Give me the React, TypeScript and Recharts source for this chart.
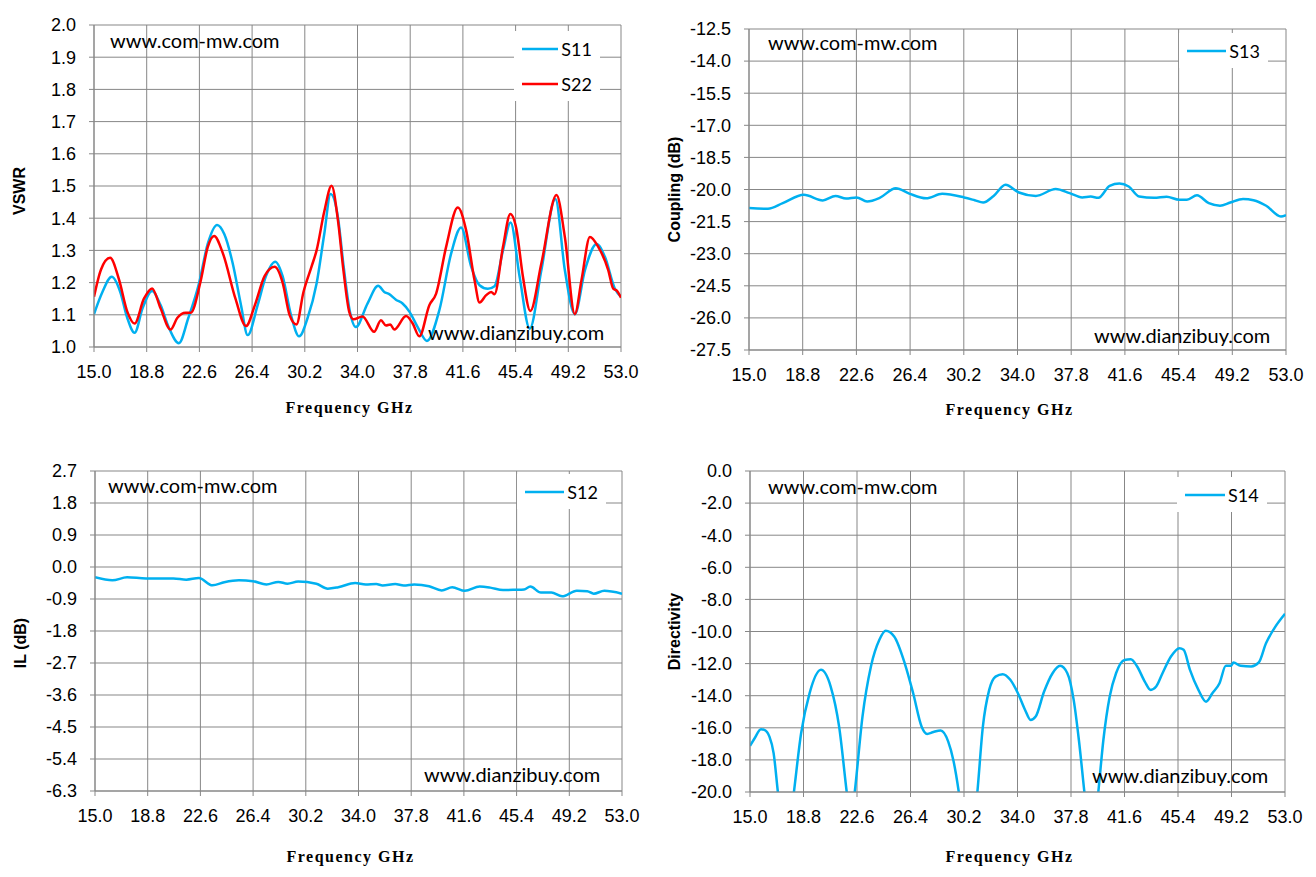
import React from "react";
import { LineChart, Line, XAxis, YAxis, CartesianGrid, Legend } from "recharts";

// shared frequency axis (GHz)
const freqTicks = [15.0, 18.8, 22.6, 26.4, 30.2, 34.0, 37.8, 41.6, 45.4, 49.2, 53.0];

const vswrTicks = [1.0, 1.1, 1.2, 1.3, 1.4, 1.5, 1.6, 1.7, 1.8, 1.9, 2.0];
const couplingTicks = [-27.5, -26.0, -24.5, -23.0, -21.5, -20.0, -18.5, -17.0, -15.5, -14.0, -12.5];
const ilTicks = [-6.3, -5.4, -4.5, -3.6, -2.7, -1.8, -0.9, 0.0, 0.9, 1.8, 2.7];
const directivityTicks = [-20, -18, -16, -14, -12, -10, -8, -6, -4, -2, 0];

// [freq GHz, value]
const s11: [number, number][] = [
  [15.0, 1.102], [15.6, 1.17], [16.28, 1.218], [16.9, 1.17], [17.4, 1.09], [17.93, 1.044],
  [18.5, 1.12], [19.19, 1.174], [19.8, 1.13], [20.4, 1.06], [21.12, 1.012], [21.8, 1.09],
  [22.57, 1.197], [23.2, 1.32], [23.88, 1.379], [24.4, 1.35], [25.0, 1.26], [25.6, 1.13],
  [26.08, 1.037], [26.8, 1.13], [27.4, 1.22], [28.07, 1.265], [28.6, 1.22], [29.2, 1.1],
  [29.79, 1.033], [30.4, 1.09], [31.05, 1.197], [31.6, 1.35], [32.06, 1.475], [32.6, 1.4],
  [33.0, 1.25], [33.45, 1.11], [33.88, 1.062], [34.72, 1.135], [35.49, 1.19], [35.93, 1.171],
  [36.29, 1.164], [36.77, 1.147], [37.25, 1.135], [37.74, 1.11], [38.34, 1.062], [39.01, 1.019],
  [39.9, 1.114], [40.75, 1.29], [41.47, 1.371], [42.2, 1.249], [42.8, 1.192], [43.4, 1.181],
  [43.88, 1.189], [44.49, 1.3], [45.04, 1.387], [45.69, 1.218], [46.42, 1.057], [47.26, 1.239],
  [48.27, 1.46], [48.95, 1.239], [49.67, 1.102], [50.4, 1.239], [51.24, 1.32], [51.84, 1.28],
  [52.56, 1.181], [53.0, 1.156],
];

const s22: [number, number][] = [
  [15.0, 1.156], [15.5, 1.24], [16.16, 1.277], [16.8, 1.21], [17.4, 1.11], [17.93, 1.073],
  [18.6, 1.15], [19.19, 1.182], [19.8, 1.12], [20.52, 1.054], [21.0, 1.09], [21.6, 1.106],
  [21.97, 1.106], [22.7, 1.207], [23.2, 1.31], [23.66, 1.345], [24.3, 1.29], [25.2, 1.15],
  [25.96, 1.065], [26.6, 1.13], [27.3, 1.22], [28.02, 1.249], [28.6, 1.2], [29.1, 1.1],
  [29.6, 1.07], [30.1, 1.17], [30.68, 1.249], [31.05, 1.3], [31.6, 1.42], [32.13, 1.501],
  [32.6, 1.39], [32.98, 1.24], [33.4, 1.11], [33.71, 1.086], [34.36, 1.095], [35.2, 1.047],
  [35.69, 1.083], [36.05, 1.067], [36.36, 1.07], [36.65, 1.054], [37.5, 1.096], [37.98, 1.073],
  [38.46, 1.033], [39.18, 1.13], [39.67, 1.166], [40.39, 1.311], [41.23, 1.433], [41.83, 1.363],
  [42.44, 1.207], [42.8, 1.138], [43.28, 1.161], [43.64, 1.171], [43.88, 1.164], [44.49, 1.311],
  [45.02, 1.413], [45.45, 1.368], [45.93, 1.218], [46.46, 1.112], [47.26, 1.26], [48.35, 1.472],
  [48.95, 1.342], [49.67, 1.102], [50.15, 1.207], [50.76, 1.342], [51.36, 1.311], [52.08, 1.239],
  [52.44, 1.181], [52.7, 1.175], [53.0, 1.153],
];

const s13: [number, number][] = [
  [15.0, -20.87], [16.34, -20.9], [17.39, -20.64], [18.88, -20.25], [20.22, -20.51], [21.12, -20.3],
  [21.87, -20.42], [22.61, -20.37], [23.36, -20.56], [24.25, -20.39], [25.39, -19.94], [26.34, -20.19],
  [27.54, -20.41], [28.67, -20.2], [30.22, -20.37], [30.97, -20.5], [31.57, -20.61], [32.31, -20.3],
  [33.15, -19.78], [34.1, -20.14], [35.3, -20.3], [36.7, -19.98], [37.69, -20.17], [38.58, -20.37],
  [39.18, -20.33], [39.72, -20.39], [40.52, -19.83], [41.21, -19.72], [41.87, -19.86], [42.61, -20.33],
  [43.66, -20.39], [44.55, -20.34], [45.45, -20.48], [45.99, -20.48], [46.7, -20.27], [47.54, -20.64],
  [48.33, -20.76], [49.06, -20.61], [49.96, -20.44], [50.7, -20.5], [51.6, -20.76], [52.64, -21.26],
  [53.0, -21.2],
];

const s12: [number, number][] = [
  [15.0, -0.29], [16.25, -0.375], [17.31, -0.29], [18.68, -0.32], [20.66, -0.32], [21.58, -0.356],
  [22.49, -0.31], [23.47, -0.516], [24.32, -0.43], [25.38, -0.375], [26.39, -0.4], [27.36, -0.49],
  [28.22, -0.42], [28.88, -0.47], [29.65, -0.41], [30.96, -0.47], [31.78, -0.61], [32.54, -0.57],
  [33.76, -0.45], [34.52, -0.49], [35.28, -0.48], [35.74, -0.52], [36.65, -0.48], [37.26, -0.52],
  [38.02, -0.49], [39.09, -0.54], [40.0, -0.66], [40.76, -0.57], [41.67, -0.67], [42.74, -0.55],
  [43.5, -0.58], [44.42, -0.65], [45.33, -0.64], [45.94, -0.63], [46.39, -0.55], [47.15, -0.72],
  [47.91, -0.72], [48.68, -0.825], [49.74, -0.67], [50.5, -0.68], [50.96, -0.75], [51.72, -0.67],
  [53.0, -0.75],
];

const s14: [number, number][] = [
  [15.0, -17.13], [15.33, -16.65], [15.78, -16.09], [16.02, -16.13], [16.38, -16.55], [16.68, -17.59],
  [16.98, -20.0], [17.55, -24.0], [18.12, -20.0], [18.63, -16.34], [19.23, -13.85], [20.04, -12.39],
  [20.73, -13.43], [21.33, -15.93], [21.87, -20.0], [22.15, -22.0], [22.44, -20.0], [22.99, -15.3],
  [23.59, -12.18], [24.19, -10.52], [24.64, -9.96], [25.24, -10.31], [25.99, -11.98], [26.59, -13.85],
  [27.19, -15.93], [27.58, -16.38], [28.03, -16.26], [28.54, -16.17], [29.08, -16.86], [29.44, -18.0],
  [29.83, -20.0], [30.5, -25.0], [31.15, -20.0], [31.54, -15.93], [31.99, -13.64], [32.44, -12.81],
  [32.95, -12.66], [33.49, -13.01], [34.03, -13.85], [34.54, -14.89], [34.93, -15.51], [35.29, -15.3],
  [35.89, -13.74], [36.49, -12.6], [37.03, -12.14], [37.54, -12.6], [37.99, -14.26], [38.36, -16.76],
  [38.75, -20.0], [39.25, -24.0], [39.74, -20.0], [40.1, -16.76], [40.55, -14.05], [41.0, -12.6],
  [41.6, -11.77], [42.05, -11.73], [42.5, -12.18], [43.04, -13.12], [43.46, -13.64], [43.85, -13.43],
  [44.3, -12.6], [44.9, -11.56], [45.5, -11.04], [45.8, -11.14], [46.25, -12.39], [46.85, -13.64],
  [47.39, -14.37], [47.84, -13.85], [48.35, -13.22], [48.8, -12.14], [49.16, -12.14], [49.34, -11.93],
  [49.85, -12.14], [50.6, -12.18], [51.14, -11.93], [51.65, -10.73], [52.25, -9.79], [53.0, -8.9],
];

const BLUE = "#00b0f0";
const RED = "#ff0000";
const GRID = "#878787";
const tickFont = { fill: "#000", fontSize: 18, fontFamily: "'Liberation Sans', Arial, sans-serif" };
const markFont = "Lato, 'Open Sans', sans-serif";

type Series = { name: string; color: string; points: [number, number][] };

const toRows = (pts: [number, number][]) => pts.map(([f, v]) => ({ f, v }));

const legendContent = (props: any) => (
  <div style={{ background: "#fff", padding: "0 8px" }}>
    {(props.payload || []).map((p: any) => (
      <div key={p.value} style={{ display: "flex", alignItems: "center", height: 35 }}>
        <svg width={40} height={6}>
          <line x1={0} y1={3} x2={40} y2={3} stroke={p.color} strokeWidth={2.5} />
        </svg>
        <span style={{ marginLeft: 3, fontFamily: markFont, fontSize: 18, color: "#000" }}>{p.value}</span>
      </div>
    ))}
  </div>
);

function Panel(props: {
  left: number;
  top: number;
  margin: { top: number; right: number; bottom: number; left: number };
  yWidth: number;
  yTicks: number[];
  yTitle: string;
  yTitleDx: number;
  yTitleDy: number;
  xTitleDy: number;
  series: Series[];
  legendPos: { left: number; top: number; width: number };
  marks: [string, number, number][];
}) {
  const { yTicks } = props;
  const W = 658;
  const H = 437;
  return (
    <div style={{ position: "absolute", left: props.left, top: props.top, width: W, height: H }}>
      <LineChart width={W} height={H} margin={props.margin}>
        <CartesianGrid stroke={GRID} strokeWidth={1} />
        <XAxis
          type="number"
          dataKey="f"
          domain={[15, 53]}
          ticks={freqTicks}
          interval={0}
          tickFormatter={(v) => v.toFixed(1)}
          tick={tickFont}
          tickSize={5}
          tickMargin={13}
          height={30}
          stroke={GRID}
          allowDataOverflow
          label={({ viewBox }: any) => {
            const cx = viewBox.x + viewBox.width / 2 - 8;
            const cy = viewBox.y + props.xTitleDy;
            return (
              <text
                x={cx}
                y={cy}
                textAnchor="middle"
                dominantBaseline="central"
                fontFamily="'Liberation Serif', 'DejaVu Serif', serif"
                fontWeight="bold"
                fontSize={16}
                letterSpacing={1.5}
                fill="#000"
              >
                Frequency GHz
              </text>
            );
          }}
        />
        <YAxis
          type="number"
          domain={[yTicks[0], yTicks[yTicks.length - 1]]}
          ticks={yTicks}
          interval={0}
          tickFormatter={(v) => v.toFixed(1)}
          tick={tickFont}
          tickSize={5}
          tickMargin={13}
          width={props.yWidth}
          stroke={GRID}
          allowDataOverflow
          label={({ viewBox }: any) => {
            const cx = viewBox.x + props.yTitleDx;
            const cy = viewBox.y + viewBox.height / 2 + props.yTitleDy;
            return (
              <text
                x={cx}
                y={cy}
                transform={`rotate(-90 ${cx} ${cy})`}
                textAnchor="middle"
                dominantBaseline="central"
                fontFamily="'Liberation Sans', Arial, sans-serif"
                fontWeight="bold"
                fontSize={16}
                fill="#000"
              >
                {props.yTitle}
              </text>
            );
          }}
        />
        <Legend
          layout="vertical"
          align="center"
          verticalAlign="middle"
          content={legendContent}
          wrapperStyle={{ left: props.legendPos.left, top: props.legendPos.top, width: props.legendPos.width }}
        />
        {props.series.map((s) => (
          <Line
            key={s.name}
            name={s.name}
            data={toRows(s.points)}
            dataKey="v"
            type="monotone"
            stroke={s.color}
            strokeWidth={2.5}
            dot={false}
            activeDot={false}
            isAnimationActive={false}
          />
        ))}
      </LineChart>
      <svg
        width={W}
        height={H}
        style={{ position: "absolute", left: 0, top: 0, pointerEvents: "none" }}
      >
        {props.marks.map(([t, x, y]) => (
          <text key={t} x={x} y={y} fontFamily={markFont} fontSize={20} fill="#000">
            {t}
          </text>
        ))}
      </svg>
    </div>
  );
}

export default function App() {
  return (
    <div
      style={{
        position: "fixed",
        left: 0,
        top: 0,
        width: 1316,
        height: 877,
        background: "#fff",
        overflow: "hidden",
      }}
    >
      <Panel
        left={0}
        top={0}
        margin={{ top: 25, right: 37, bottom: 60, left: 0 }}
        yWidth={94}
        yTicks={vswrTicks}
        yTitle="VSWR"
        yTitleDx={19}
        yTitleDy={5}
        xTitleDy={60}
        series={[
          { name: "S11", color: BLUE, points: s11 },
          { name: "S22", color: RED, points: s22 },
        ]}
        legendPos={{ left: 514, top: 31, width: 86 }}
        marks={[
          ["www.com-mw.com", 110, 48],
          ["www.dianzibuy.com", 428, 340],
        ]}
      />
      <Panel
        left={658}
        top={0}
        margin={{ top: 29, right: 30, bottom: 57, left: 0 }}
        yWidth={91}
        yTicks={couplingTicks}
        yTitle="Coupling (dB)"
        yTitleDx={16}
        yTitleDy={0}
        xTitleDy={59}
        series={[{ name: "S13", color: BLUE, points: s13 }]}
        legendPos={{ left: 521, top: 33, width: 89 }}
        marks={[
          ["www.com-mw.com", 110, 50],
          ["www.dianzibuy.com", 436, 343],
        ]}
      />
      <Panel
        left={0}
        top={440}
        margin={{ top: 31, right: 36, bottom: 56, left: 0 }}
        yWidth={95}
        yTicks={ilTicks}
        yTitle="IL (dB)"
        yTitleDx={20}
        yTitleDy={12}
        xTitleDy={65}
        series={[{ name: "S12", color: BLUE, points: s12 }]}
        legendPos={{ left: 517, top: 34, width: 89 }}
        marks={[
          ["www.com-mw.com", 108, 53],
          ["www.dianzibuy.com", 424, 342],
        ]}
      />
      <Panel
        left={658}
        top={440}
        margin={{ top: 31, right: 31, bottom: 55, left: 0 }}
        yWidth={92}
        yTicks={directivityTicks}
        yTitle="Directivity"
        yTitleDx={16}
        yTitleDy={0}
        xTitleDy={64}
        series={[{ name: "S14", color: BLUE, points: s14 }]}
        legendPos={{ left: 519, top: 37, width: 90 }}
        marks={[
          ["www.com-mw.com", 110, 54],
          ["www.dianzibuy.com", 434, 343],
        ]}
      />
    </div>
  );
}
